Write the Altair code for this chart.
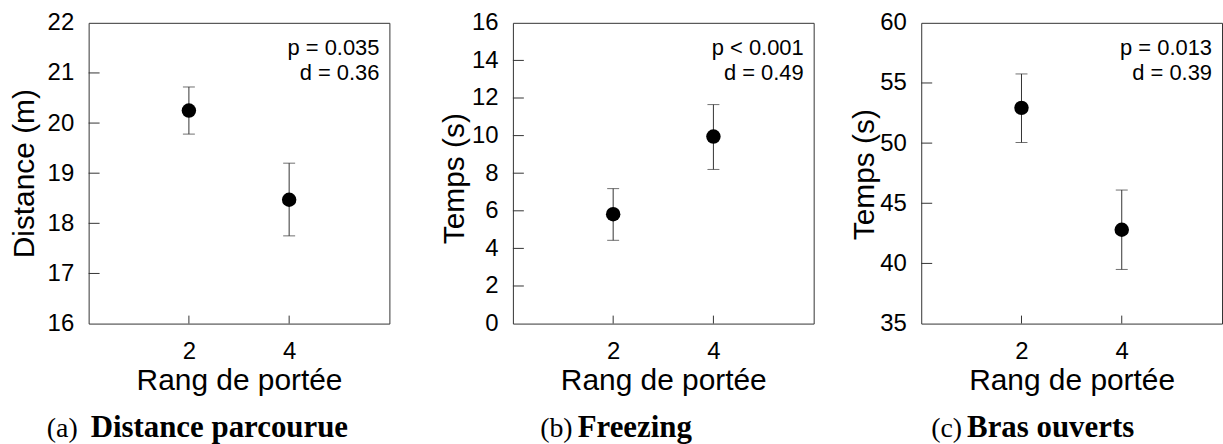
import altair as alt
import pandas as pd

# ---- data ----
rang = [2, 4]
x_ticks = [2, 4]

dist_mean = [20.25, 18.47]
dist_lo = [19.78, 17.75]
dist_hi = [20.72, 19.20]
dist_labels = [16, 17, 18, 19, 20, 21, 22]
dist_inner = [17, 18, 19, 20, 21]

freeze_mean = [5.82, 9.95]
freeze_lo = [4.43, 8.20]
freeze_hi = [7.18, 11.65]
freeze_labels = [0, 2, 4, 6, 8, 10, 12, 14, 16]
freeze_inner = [2, 4, 6, 8, 10, 12, 14]

bras_mean = [52.93, 42.80]
bras_lo = [50.05, 39.50]
bras_hi = [55.75, 46.10]
bras_labels = [35, 40, 45, 50, 55, 60]
bras_inner = [40, 45, 50, 55]

W = 302
H = 302
SANS = "Liberation Sans"
SERIF = "Liberation Serif"
LINE = "#333333"


def panel(mean, lo, hi, ydom, ylabels, yinner, ytitle, ptxt, dtxt, tag, name,
          ytitle_x, ytitle_y, tag_right, name_x, ext):
    df = pd.DataFrame({"rang": rang, "m": mean, "lo": lo, "hi": hi})
    xs = alt.Scale(domain=[0, 6], nice=False, zero=False)
    ys = alt.Scale(domain=ydom, nice=False, zero=False)
    xaxis = alt.Axis(values=x_ticks, title="Rang de portée", labelPadding=16,
                     titleY=42, titleBaseline="top", labelAngle=0)
    yaxis = alt.Axis(values=ylabels, title=ytitle, labelPadding=15,
                     titleAngle=270, titleBaseline="alphabetic",
                     titleX=ytitle_x, titleY=ytitle_y)

    def X(f):
        return alt.X(f, scale=xs, axis=xaxis)

    def Y(f):
        return alt.Y(f, scale=ys, axis=yaxis)

    base = alt.Chart(df)
    points = base.mark_point(filled=True, shape="circle", size=210, color="black", opacity=1).encode(
        x=X("rang:Q"), y=Y("m:Q"),
    )
    bars = base.mark_rule(color=LINE, strokeWidth=1).encode(
        x=X("rang:Q"), y=Y("lo:Q"), y2="hi:Q",
    )
    cap_lo = base.mark_tick(orient="horizontal", size=12, thickness=1, color=LINE).encode(
        x=X("rang:Q"), y=Y("lo:Q"),
    )
    cap_hi = base.mark_tick(orient="horizontal", size=12, thickness=1, color=LINE).encode(
        x=X("rang:Q"), y=Y("hi:Q"),
    )
    yt = alt.Chart(pd.DataFrame({"v": yinner})).mark_rule(color=LINE, strokeWidth=1).encode(
        y=Y("v:Q"), x=alt.value(0), x2=alt.value(11)
    )
    xt = alt.Chart(pd.DataFrame({"v": x_ticks})).mark_rule(color=LINE, strokeWidth=1).encode(
        x=X("v:Q"), y=alt.value(H), y2=alt.value(H - 8)
    )
    p_lab = alt.Chart(pd.DataFrame({"t": [ptxt]})).mark_text(
        align="right", baseline="alphabetic", font=SANS, fontSize=22, color="black"
    ).encode(text="t:N", x=alt.value(292), y=alt.value(32))
    d_lab = alt.Chart(pd.DataFrame({"t": [dtxt]})).mark_text(
        align="right", baseline="alphabetic", font=SANS, fontSize=22, color="black"
    ).encode(text="t:N", x=alt.value(292), y=alt.value(57))
    tag_lab = alt.Chart(pd.DataFrame({"t": [tag]})).mark_text(
        align="right", baseline="alphabetic", font=SERIF, fontSize=28, color="black"
    ).encode(text="t:N", x=alt.value(tag_right), y=alt.value(416))
    name_lab = alt.Chart(pd.DataFrame({"t": [name]})).mark_text(
        align="left", baseline="alphabetic", font=SERIF, fontSize=31, fontWeight="bold", color="black"
    ).encode(text="t:N", x=alt.value(name_x), y=alt.value(416))
    spacer = alt.Chart(pd.DataFrame({"t": [0]})).mark_rule(opacity=0, strokeOpacity=0).encode(
        x=alt.value(-ext), y=alt.value(-21), y2=alt.value(0)
    )
    return alt.layer(spacer, yt, xt, bars, cap_lo, cap_hi, points, p_lab, d_lab, tag_lab, name_lab).properties(
        width=W, height=H
    )


pa = panel(dist_mean, dist_lo, dist_hi, [16, 22], dist_labels, dist_inner, "Distance (m)",
           "p = 0.035", "d = 0.36", "(a)", "Distance parcourue", -55, 151, -11, 2, 88)
pb = panel(freeze_mean, freeze_lo, freeze_hi, [0, 16], freeze_labels, freeze_inner, "Temps (s)",
           "p < 0.001", "d = 0.49", "(b)", "Freezing", -50, 156, 60, 65, 122)
pc = panel(bras_mean, bras_lo, bras_hi, [35, 60], bras_labels, bras_inner, "Temps (s)",
           "p = 0.013", "d = 0.39", "(c)", "Bras ouverts", -48, 152, 41, 46, 106)

chart = alt.hconcat(pa, pb, pc, spacing=0).properties(
    padding=0, background="white"
).configure_view(
    stroke=LINE, strokeWidth=1
).configure_axis(
    domain=False, ticks=False, tickSize=0, grid=False,
    labelFont=SANS, labelFontSize=24, labelColor="black",
    titleFont=SANS, titleFontSize=30, titleFontWeight="normal", titleColor="black",
)

chart.save("out.html", embed_options={"renderer": "svg", "actions": False})
